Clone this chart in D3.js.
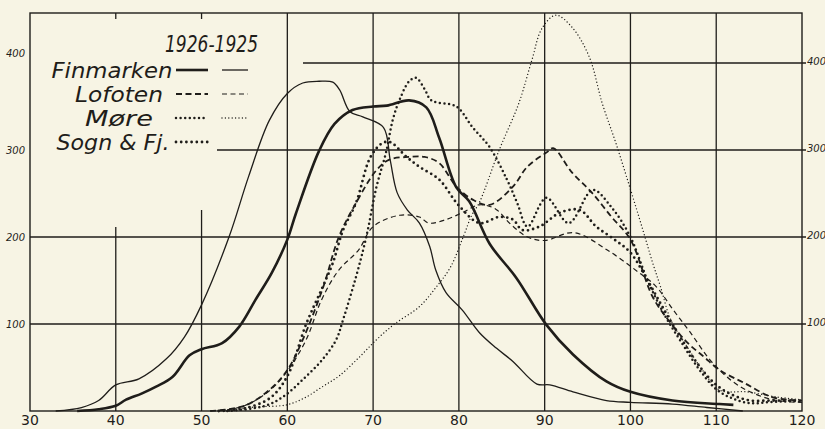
<!DOCTYPE html>
<html>
<head>
<meta charset="utf-8">
<script src="https://cdn.jsdelivr.net/npm/d3@7"></script>
<style>
    html, body { margin: 0; padding: 0; background: #f7f4e4; }
    #chart { width: 825px; height: 429px; }
</style>
</head>
<body>
<div id="chart"></div>
<script>
// ages on x, counts on y
const xTicks = [30, 40, 50, 60, 70, 80, 90, 100, 110, 120];
const yTicks = [100, 200, 300, 400];

const finmarken1926 = [[35.5,0],[38,2],[40,6],[41.2,13],[43,20],[44.7,28],[46.6,39],[48.6,64],[50,71],[52.4,78],[54.4,97],[56.3,128],[58.2,159],[60,197],[61,227],[63.7,299],[65.5,330],[67.6,346],[70,350],[71.6,351],[74.2,357],[76.2,349],[77.7,314],[79.7,257],[81.2,241],[83.6,192],[86.7,153],[90.2,99],[93.3,65],[97.2,34],[100,22],[104.9,12],[110.4,8],[112,7]];
const finmarken1925 = [[33,0],[36,4],[38,12],[40,30],[42.7,37],[45.9,60],[48,85],[50,122],[53.2,200],[55.5,270],[57.9,334],[60,365],[61.8,377],[63.7,379],[65.3,378],[66.1,369],[67.3,344],[68.8,338],[71.2,326],[72,288],[72.8,251],[74,231],[75.4,216],[76.6,189],[77.3,162],[78.5,136],[80.4,116],[82.4,90],[84.4,72],[86.3,57],[89.1,31],[90.6,30],[93.3,22],[97.2,12],[100,10],[104.9,8],[108.9,4],[113.1,0]];
const lofoten1926 = [[51,0],[55,6],[58,25],[60,47],[61.8,82],[64.2,143],[66,200],[68,239],[70.4,277],[71.9,289],[74.2,292],[76,292],[77.7,285],[79.7,258],[81.6,243],[83.6,237],[86.3,258],[88,281],[90.2,297],[91,302],[93.2,274],[95.5,251],[97.8,223],[100,197],[102.6,131],[104.7,101],[106.7,78],[108.6,62],[110.4,47],[113.3,32],[116.5,16],[120,12]];
const lofoten1925 = [[52,0],[55,6],[58,24],[60,46],[62.2,82],[64,128],[66,162],[68.3,185],[70,212],[73.1,225],[75.4,223],[76.5,216],[78.5,220],[80.6,229],[82.4,237],[84.3,232],[86,215],[88,200],[90,196],[93.4,205],[97.3,185],[101,159],[103,143],[105,116],[107,90],[109.6,55],[112.8,28],[116.6,13],[120,10]];
const more1926 = [[53,0],[56,3],[58,8],[60,20],[62,38],[64,58],[65.7,82],[66.5,105],[68,154],[69.2,200],[70.4,258],[71.5,297],[72.3,335],[73.1,358],[74.2,379],[75,383],[76,370],[76.8,357],[79.7,350],[81.6,326],[83.6,303],[85.6,266],[86.8,239],[88,212],[90.2,245],[92.8,216],[95.6,254],[97.8,234],[100,200],[102,150],[104,110],[106,78],[108,48],[110,25],[112,14],[114,9],[116,10],[118,11],[120,11]];
const more1925 = [[52,0],[54.4,3],[57,5],[59.9,7],[62,15],[64.1,28],[66,40],[68.4,62],[70.4,82],[72.5,100],[75.4,120],[77.4,143],[79,165],[80.5,200],[81.5,225],[82.4,240],[84.7,300],[87,354],[88.5,403],[89.7,440],[91.3,455],[93.2,441],[95.2,407],[96.7,354],[98.3,308],[99.9,258],[101.3,213],[102.6,170],[103.5,143],[104.7,105],[106.6,74],[108.4,47],[110.4,24],[113.6,22],[117.1,16],[120,13]];
const sogn1926 = [[52,0],[55,3],[58,15],[60,40],[62.2,100],[64,140],[65.3,170],[66.5,208],[68,239],[69.7,292],[71.1,308],[72,309],[73.9,292],[75.5,280],[77.7,266],[80,236],[82.4,216],[84.7,223],[86.3,220],[87.4,208],[89.4,212],[91.8,228],[94.1,231],[96,212],[98,198],[100,182],[102,150],[104,115],[106,82],[108,52],[110,30],[112,18],[114,12],[116,12],[118,12],[120,12]];

const regions = ["Finmarken", "Lofoten", "Møre", "Sogn & Fj."];

class AgeChart {
    constructor(_parentElement) {
        this.parentElement = _parentElement;
        this.initVis();
    }

    initVis() {
        let vis = this;

        vis.width = 825;
        vis.height = 429;
        vis.ink = "#1f1d1a";

        vis.svg = d3.select("#" + vis.parentElement).append("svg")
            .attr("width", vis.width)
            .attr("height", vis.height);

        vis.svg.append("rect")
            .attr("width", vis.width).attr("height", vis.height)
            .attr("fill", "#f7f4e4");

        vis.x = d3.scaleLinear().domain([30, 120]).range([30, 802]);
        vis.y = d3.scaleLinear().domain([0, 400]).range([411, 63]);
        vis.top = 13;

        vis.series = [
            {data: finmarken1926, width: 2.6, dash: null},
            {data: finmarken1925, width: 1.3, dash: null},
            {data: lofoten1926, width: 1.8, dash: "6 3.5"},
            {data: lofoten1925, width: 1.2, dash: "5 3.5"},
            {data: more1926, width: 2.5, dash: "0 4.6", cap: "round"},
            {data: more1925, width: 1.4, dash: "0 3.4", cap: "round"},
            {data: sogn1926, width: 2.8, dash: "0 5.2", cap: "round"}
        ];

        vis.drawGrid();
        vis.drawLegend();
        vis.updateVis();
    }

    drawGrid() {
        let vis = this;
        let g = vis.svg.append("g").attr("stroke", vis.ink).attr("fill", "none");

        // frame
        g.append("rect")
            .attr("x", vis.x(30)).attr("y", vis.top)
            .attr("width", vis.x(120) - vis.x(30))
            .attr("height", vis.y(0) - vis.top)
            .attr("stroke-width", 1.4);

        // vertical grid, the two left ones stop under the legend
        let vStart = {40: 227, 50: 210};
        xTicks.slice(1, -1).forEach(t => {
            g.append("line")
                .attr("x1", vis.x(t)).attr("x2", vis.x(t))
                .attr("y1", vStart[t] || vis.top).attr("y2", vis.y(0))
                .attr("stroke-width", 1.3);
            if (vStart[t]) {
                g.append("line")
                    .attr("x1", vis.x(t)).attr("x2", vis.x(t))
                    .attr("y1", vis.top).attr("y2", vis.top + 6)
                    .attr("stroke-width", 1.3);
            }
        });

        let hStart = {300: 217, 400: 303};
        yTicks.forEach(t => {
            g.append("line")
                .attr("x1", hStart[t] || vis.x(30)).attr("x2", vis.x(120) + 4)
                .attr("y1", vis.y(t)).attr("y2", vis.y(t))
                .attr("stroke-width", 1.3);
        });

        // tick labels
        vis.svg.selectAll(".xlab")
            .data(xTicks)
            .enter().append("text")
            .attr("class", "xlab")
            .attr("x", d => vis.x(d))
            .attr("y", 425)
            .attr("text-anchor", "middle")
            .attr("font-family", "DejaVu Sans, sans-serif")
            .attr("font-size", 14)
            .attr("fill", vis.ink)
            .text(d => d);

        vis.svg.selectAll(".ylabL")
            .data(yTicks)
            .enter().append("text")
            .attr("class", "ylabL")
            .attr("x", 25)
            .attr("y", d => vis.y(d) + (d === 400 ? -6 : 4))
            .attr("text-anchor", "end")
            .attr("font-family", "DejaVu Sans, sans-serif")
            .attr("font-style", "italic")
            .attr("font-size", 10)
            .attr("fill", vis.ink)
            .text(d => d);

        vis.svg.selectAll(".ylabR")
            .data(yTicks)
            .enter().append("text")
            .attr("class", "ylabR")
            .attr("x", 807)
            .attr("y", d => vis.y(d) + 2)
            .attr("font-family", "DejaVu Sans, sans-serif")
            .attr("font-style", "italic")
            .attr("font-size", 10)
            .attr("fill", vis.ink)
            .text(d => d);
    }

    drawLegend() {
        let vis = this;
        let lg = vis.svg.append("g")
            .attr("font-family", "'DejaVu Sans Condensed', 'Liberation Sans Narrow', sans-serif")
            .attr("font-style", "italic")
            .attr("fill", vis.ink);

        lg.append("text")
            .attr("x", 165).attr("y", 52)
            .attr("font-size", 23)
            .attr("textLength", 93).attr("lengthAdjust", "spacingAndGlyphs")
            .text("1926-1925");

        let rows = [
            {name: regions[0], cx: 112, y: 78, w: 121, s: [0, 1]},
            {name: regions[1], cx: 119, y: 102, w: 88, s: [2, 3]},
            {name: regions[2], cx: 119, y: 126, w: 68, s: [4, 5]},
            {name: regions[3], cx: 113, y: 150, w: 113, s: [6]}
        ];

        rows.forEach(r => {
            lg.append("text")
                .attr("x", r.cx).attr("y", r.y)
                .attr("text-anchor", "middle")
                .attr("font-size", 22)
                .attr("textLength", r.w).attr("lengthAdjust", "spacingAndGlyphs")
                .text(r.name);

            r.s.forEach((si, k) => {
                let s = vis.series[si];
                vis.svg.append("line")
                    .attr("x1", k === 0 ? 176 : 222).attr("x2", k === 0 ? 208 : 248)
                    .attr("y1", r.y - 8).attr("y2", r.y - 8)
                    .attr("stroke", vis.ink)
                    .attr("stroke-width", s.width)
                    .attr("stroke-dasharray", s.dash)
                    .attr("stroke-linecap", s.cap || "butt");
            });
        });
    }

    updateVis() {
        let vis = this;

        let line = d3.line()
            .x(d => vis.x(d[0]))
            .y(d => vis.y(d[1]))
            .curve(d3.curveCatmullRom.alpha(0.5));

        vis.svg.append("g").selectAll(".curve")
            .data(vis.series)
            .enter().append("path")
            .attr("class", "curve")
            .attr("d", d => line(d.data))
            .attr("fill", "none")
            .attr("stroke", vis.ink)
            .attr("stroke-width", d => d.width)
            .attr("stroke-dasharray", d => d.dash)
            .attr("stroke-linecap", d => d.cap || "butt")
            .attr("stroke-linejoin", "round");
    }
}

new AgeChart("chart");
</script>
</body>
</html>
